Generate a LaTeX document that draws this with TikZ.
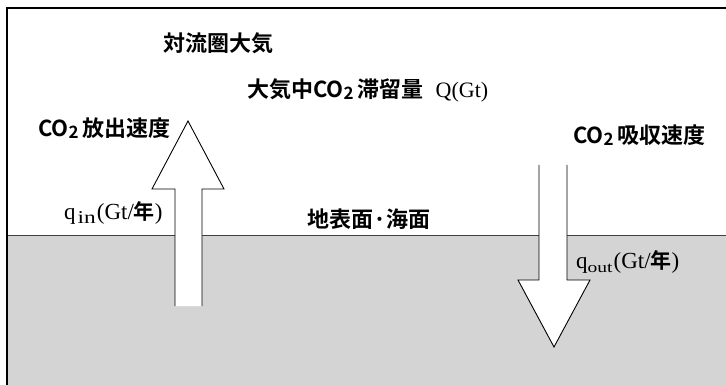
\documentclass[tikz,border=0pt]{standalone}
\usepackage{graphicx}
\usepackage{fontspec}
\setmainfont{Liberation Serif}
\newfontfamily\jp{Noto Sans CJK JP Bold}
\newcommand{\cotwo}{CO{\fontsize{17}{17}\selectfont\raisebox{-2.5pt}{2}}\hspace{4pt}}
\newcommand{\subtxt}[2]{\raisebox{-4pt}{\fontsize{#1}{#1}\selectfont\scalebox{1.3}[1]{#2}}}
\newcommand{\nen}{{\jp\fontsize{21}{21}\selectfont 年}}
\begin{document}
\begin{tikzpicture}[x=1pt,y=-1pt,
  lbl/.style={inner sep=0pt,anchor=west,font=\jp\fontsize{22}{22}\selectfont},
  ser/.style={inner sep=0pt,anchor=west,font=\fontsize{23}{23}\selectfont},
  arrowfill/.style={fill=white,draw=none},
  arrowline/.style={draw=black,line width=0.9pt,line join=miter}]
\useasboundingbox (0,0) rectangle (726,385);
\fill[white] (0,0) rectangle (726,385);
% ground
\fill[black!17] (7,235) rectangle (726,385);
\draw[black!75,line width=0.9pt] (7,235) -- (726,235);
% frame
\draw[black,line width=1.6pt] (726,8) -- (7,8) -- (7,385);
% up arrow
\coordinate (ua1) at (175,306);
\coordinate (ua2) at (175,189);
\coordinate (ua3) at (152,189);
\coordinate (ua4) at (188,121);
\coordinate (ua5) at (224,189);
\coordinate (ua6) at (202,189);
\coordinate (ua7) at (202,306);
\fill[arrowfill] (ua1) -- (ua2) -- (ua3) -- (ua4) -- (ua5) -- (ua6) -- (ua7) -- cycle;
\draw[arrowline] (ua1) -- (ua2) -- (ua3) -- (ua4) -- (ua5) -- (ua6) -- (ua7);
% down arrow
\coordinate (da1) at (539,165);
\coordinate (da2) at (539,280);
\coordinate (da3) at (518,280);
\coordinate (da4) at (554,347);
\coordinate (da5) at (590,280);
\coordinate (da6) at (567,280);
\coordinate (da7) at (567,165);
\fill[arrowfill] (da1) -- (da2) -- (da3) -- (da4) -- (da5) -- (da6) -- (da7) -- cycle;
\draw[arrowline] (da1) -- (da2) -- (da3) -- (da4) -- (da5) -- (da6) -- (da7);
% labels
\node[lbl] (t1) at (163,43) {対流圏大気};
\node[lbl] (t2) at (247,90) {大気中\cotwo 滞留量\hspace{12pt}{\rmfamily\fontsize{22}{22}\selectfont Q(Gt)}};
\node[lbl] (t3) at (38,128) {\cotwo 放出速度};
\node[lbl] (t4) at (573,135) {\cotwo 吸収速度};
\node[lbl] (t5) at (307,219) {地表面{\fontsize{22}{22}\selectfont ·}海面};
\node[ser] (t6) at (64,213) {q\hspace{2pt}\subtxt{18}{in}\hspace{1pt}(Gt/\nen)};
\node[ser] (t7) at (576,262) {q\subtxt{15}{out}\hspace{1pt}(Gt/\nen)};
\end{tikzpicture}
\end{document}
